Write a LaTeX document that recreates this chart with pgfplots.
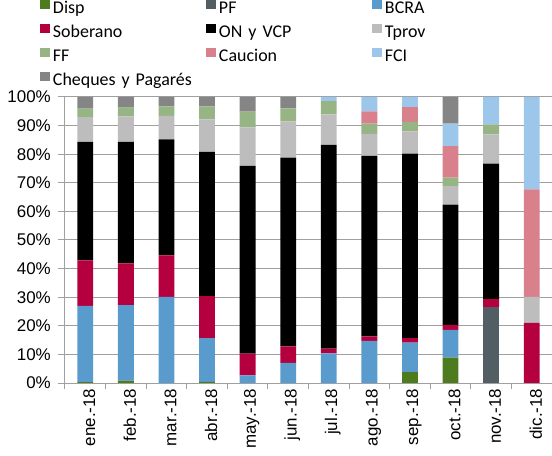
\documentclass[border=0pt]{standalone}
\usepackage{fontspec}
\setmainfont{Liberation Sans}
\newfontfamily\legfont{Carlito}
\usepackage{pgfplots}
\pgfplotsset{compat=1.18}
\definecolor{cDisp}{HTML}{4F7B1F}
\definecolor{cPF}{HTML}{525D64}
\definecolor{cBCRA}{HTML}{5A9BCD}
\definecolor{cSob}{HTML}{B4003F}
\definecolor{cON}{HTML}{000000}
\definecolor{cTprov}{HTML}{BDBDBD}
\definecolor{cFF}{HTML}{97B485}
\definecolor{cCau}{HTML}{D9808D}
\definecolor{cFCI}{HTML}{9DC7EA}
\definecolor{cChq}{HTML}{858585}
\definecolor{gridc}{HTML}{A0A0A0}
\pgfplotsset{sqleg/.style={legend image code/.code={\fill[##1] (0bp,0bp) rectangle (10bp,9.5bp);}}}
\begin{document}
\begin{tikzpicture}
\begin{axis}[name=ax, scale only axis, width=487bp, height=286bp,
 ybar stacked, bar width=0.39,
 xmin=-0.5, xmax=11.5, ymin=0, ymax=100,
 axis x line*=bottom, axis y line*=left,
 axis line style={draw=gridc, line width=1bp},
 ymajorgrids, grid style={draw=gridc, line width=1bp},
 ytick={0,10,...,100},
 yticklabels={0\%,10\%,20\%,30\%,40\%,50\%,60\%,70\%,80\%,90\%,100\%},
 xtick={0,...,11},
 xticklabels={ene.-18,feb.-18,mar.-18,abr.-18,may.-18,jun.-18,jul.-18,ago.-18,sep.-18,oct.-18,nov.-18,dic.-18},
 minor xtick={-0.5,0.5,...,11.5},
 tick align=outside, major tick length=7bp, minor tick length=6bp,
 every major x tick/.append style={draw=none},
 every minor tick/.append style={draw=gridc, line width=1bp},
 every major y tick/.append style={draw=gridc, line width=1bp},
 ticklabel style={font=\fontsize{17}{19}\selectfont},
 yticklabel style={inner sep=0pt, xshift=-7bp},
 xticklabel style={rotate=90, anchor=east, inner sep=0pt, yshift=-4bp, xshift=1.5bp},
 legend columns=3, legend cell align=left,
 legend style={at={(0,1)}, anchor=north west, xshift=-25bp, yshift=97bp,
   draw=none, fill=none, inner sep=0pt, outer sep=0pt,
   nodes={inner sep=0pt, text width=153bp, text height=12bp, text depth=4bp, font=\legfont\fontsize{18}{20}\selectfont},
   row sep=6.5bp,
   /tikz/every odd column/.append style={column sep=3bp}},
]
\addplot[fill=cDisp, draw=none, sqleg] coordinates {(0,0.3) (1,0.8) (2,0) (3,0.4) (4,0) (5,0) (6,0) (7,0) (8,3.8) (9,8.9) (10,0) (11,0)};
\addlegendentry{Disp}
\addplot[fill=cPF, draw=none, sqleg] coordinates {(0,0) (1,0) (2,0) (3,0) (4,0) (5,0) (6,0) (7,0) (8,0) (9,0) (10,26.6) (11,0)};
\addlegendentry{PF}
\addplot[fill=cBCRA, draw=none, sqleg] coordinates {(0,26.7) (1,26.4) (2,30.1) (3,15.3) (4,2.7) (5,7.0) (6,10.4) (7,14.7) (8,10.3) (9,9.7) (10,0) (11,0)};
\addlegendentry{BCRA}
\addplot[fill=cSob, draw=none, sqleg] coordinates {(0,15.9) (1,14.6) (2,14.5) (3,14.7) (4,7.6) (5,5.8) (6,1.6) (7,1.6) (8,1.6) (9,1.7) (10,2.7) (11,21.0)};
\addlegendentry{Soberano}
\addplot[fill=cON, draw=none, sqleg] coordinates {(0,41.4) (1,42.5) (2,40.6) (3,50.4) (4,65.6) (5,66.0) (6,71.3) (7,63.1) (8,64.5) (9,42.1) (10,47.4) (11,0)};
\addlegendentry{ON y VCP}
\addplot[fill=cTprov, draw=none, sqleg] coordinates {(0,8.7) (1,8.9) (2,8.2) (3,11.4) (4,13.5) (5,12.7) (6,10.6) (7,7.7) (8,7.8) (9,6.4) (10,10.2) (11,9.1)};
\addlegendentry{Tprov}
\addplot[fill=cFF, draw=none, sqleg] coordinates {(0,2.9) (1,3.1) (2,3.3) (3,4.5) (4,5.5) (5,4.5) (6,4.7) (7,3.6) (8,3.3) (9,3.0) (10,3.5) (11,0)};
\addlegendentry{FF}
\addplot[fill=cCau, draw=none, sqleg] coordinates {(0,0) (1,0) (2,0) (3,0) (4,0) (5,0) (6,0) (7,4.3) (8,5.2) (9,11.0) (10,0) (11,37.6)};
\addlegendentry{Caucion}
\addplot[fill=cFCI, draw=none, sqleg] coordinates {(0,0) (1,0) (2,0) (3,0) (4,0) (5,0) (6,1.4) (7,5.0) (8,3.5) (9,7.9) (10,9.6) (11,32.3)};
\addlegendentry{FCI}
\addplot[fill=cChq, draw=none, sqleg] coordinates {(0,4.1) (1,3.7) (2,3.3) (3,3.3) (4,5.1) (5,4.0) (6,0) (7,0) (8,0) (9,9.3) (10,0) (11,0)};
\addlegendentry{Cheques y Pagarés}
\end{axis}
\pgfresetboundingbox
\path[use as bounding box] ([xshift=-65bp,yshift=-73bp]ax.south west) rectangle ([yshift=97bp]ax.north east);
\end{tikzpicture}
\end{document}
